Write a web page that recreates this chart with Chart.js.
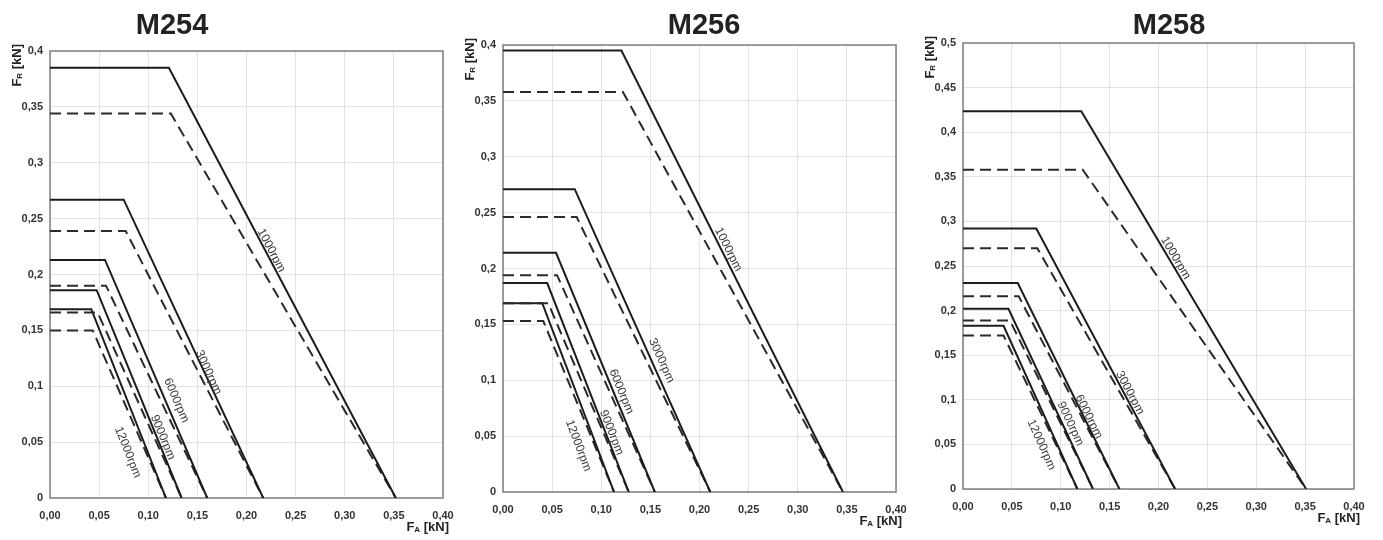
<!DOCTYPE html>
<html>
<head>
<meta charset="utf-8">
<script src="https://cdn.jsdelivr.net/npm/chart.js@4.4.1/dist/chart.umd.min.js"></script>
<style>
  body { margin: 0; background: #fff; width: 1383px; height: 540px; position: relative; overflow: hidden; }
  .box { position: absolute; top: 0; height: 540px; }
  .ttl { position: absolute; top: 8px; width: 200px; text-align: center; line-height: 29px;
         font: bold 29px 'Liberation Sans', Arial, sans-serif; color: #222; }
</style>
</head>
<body>
<div class="box" style="left:0;width:460px"><canvas id="m254"></canvas></div>
<div class="box" style="left:460px;width:460px"><canvas id="m256"></canvas></div>
<div class="box" style="left:920px;width:463px"><canvas id="m258"></canvas></div>
<div class="ttl" style="left:72px">M254</div>
<div class="ttl" style="left:604px">M256</div>
<div class="ttl" style="left:1069px">M258</div>
<script>
// permissible radial load F_R vs axial load F_A, per speed
const speeds = ['1000rpm', '3000rpm', '6000rpm', '9000rpm', '12000rpm'];

// M254
const m254SolidFr   = [0.385, 0.267, 0.213, 0.186, 0.169];
const m254SolidKnee = [0.121, 0.075, 0.056, 0.0475, 0.042];
const m254DashFr    = [0.344, 0.239, 0.190, 0.166, 0.150];
const m254DashKnee  = [0.123, 0.077, 0.057, 0.0485, 0.0435];
const m254FaMax     = [0.352, 0.217, 0.160, 0.134, 0.118];

// M256
const m256SolidFr   = [0.395, 0.271, 0.214, 0.187, 0.169];
const m256SolidKnee = [0.1205, 0.073, 0.054, 0.045, 0.040];
const m256DashFr    = [0.358, 0.246, 0.194, 0.169, 0.153];
const m256DashKnee  = [0.122, 0.075, 0.055, 0.046, 0.041];
const m256FaMax     = [0.346, 0.211, 0.1545, 0.128, 0.113];

// M258
const m258SolidFr   = [0.4235, 0.292, 0.231, 0.202, 0.183];
const m258SolidKnee = [0.121, 0.075, 0.056, 0.0465, 0.0415];
const m258DashFr    = [0.358, 0.270, 0.216, 0.189, 0.172];
const m258DashKnee  = [0.1225, 0.076, 0.057, 0.048, 0.0415];
const m258FaMax     = [0.351, 0.217, 0.160, 0.133, 0.117];

const FONT = "'Liberation Sans', Arial, sans-serif";

function curve(fr, knee, end) {
  return [{ x: 0, y: fr }, { x: knee, y: fr }, { x: end, y: 0 }];
}

// frame, axis titles and rpm labels along the sloped parts
const decor = {
  id: 'decor',
  beforeDatasetsDraw(chart) {
    const a = chart.chartArea, ctx = chart.ctx;
    ctx.save();
    ctx.strokeStyle = '#7f7f7f';
    ctx.lineWidth = 1.5;
    ctx.strokeRect(a.left, a.top, a.right - a.left, a.bottom - a.top);
    ctx.restore();
  },
  afterDatasetsDraw(chart, args, opts) {
    const a = chart.chartArea, ctx = chart.ctx;
    const xs = chart.scales.x, ys = chart.scales.y;
    ctx.save();
    ctx.fillStyle = '#222';

    // F_R [kN], rotated, ending at the top of the axis
    ctx.translate(a.left - 33, a.top - 7);
    ctx.rotate(-Math.PI / 2);
    ctx.textBaseline = 'middle';
    ctx.textAlign = 'left';
    ctx.font = 'bold 13px ' + FONT;
    const wF = ctx.measureText('F').width, wU = ctx.measureText(' [kN]').width;
    ctx.font = 'bold 8px ' + FONT;
    const wR = ctx.measureText('R').width;
    let x0 = -(wF + wR + wU);
    ctx.font = 'bold 13px ' + FONT;
    ctx.fillText('F', x0, 0);
    ctx.font = 'bold 8px ' + FONT;
    ctx.fillText('R', x0 + wF, 3);
    ctx.font = 'bold 13px ' + FONT;
    ctx.fillText(' [kN]', x0 + wF + wR, 0);
    ctx.setTransform(1, 0, 0, 1, 0, 0);

    // F_A [kN] under the right end of the axis
    ctx.font = 'bold 8px ' + FONT;
    const wA = ctx.measureText('A').width;
    ctx.font = 'bold 13px ' + FONT;
    x0 = a.right + 6 - (wF + wA + wU);
    const yb = a.bottom + 29;
    ctx.fillText('F', x0, yb);
    ctx.font = 'bold 8px ' + FONT;
    ctx.fillText('A', x0 + wF, yb + 3);
    ctx.font = 'bold 13px ' + FONT;
    ctx.fillText(' [kN]', x0 + wF + wA, yb);

    // speed labels
    ctx.font = '12px ' + FONT;
    ctx.fillStyle = '#3a3a3a';
    ctx.textAlign = 'center';
    ctx.textBaseline = 'middle';
    opts.speeds.forEach((s, i) => {
      const px1 = xs.getPixelForValue(opts.knee[i]), py1 = ys.getPixelForValue(opts.fr[i]);
      const px2 = xs.getPixelForValue(opts.end[i]), py2 = ys.getPixelForValue(0);
      const t = (opts.fr[i] - opts.at[i]) / opts.fr[i];
      const cx = px1 + t * (px2 - px1) + opts.shift[i];
      const cy = py1 + t * (py2 - py1);
      ctx.save();
      ctx.translate(cx, cy);
      ctx.rotate(Math.atan2(py2 - py1, px2 - px1));
      ctx.fillText(s, 0, 0);
      ctx.restore();
    });
    ctx.restore();
  }
};

function makeChart(id, d, box) {
  const datasets = [];
  speeds.forEach((s, i) => {
    datasets.push({
      label: s, data: curve(d.solidFr[i], d.solidKnee[i], d.faMax[i]),
      showLine: true, borderColor: '#1c1c1c', borderWidth: 2, pointRadius: 0, tension: 0
    });
    datasets.push({
      label: s + ' dashed', data: curve(d.dashFr[i], d.dashKnee[i], d.faMax[i]),
      showLine: true, borderColor: '#2a2a2a', borderWidth: 2, borderDash: [11, 6],
      pointRadius: 0, tension: 0
    });
  });

  return new Chart(document.getElementById(id), {
    type: 'scatter',
    data: { datasets },
    options: {
      responsive: true,
      maintainAspectRatio: false,
      animation: false,
      layout: { padding: { left: 0, top: box.top, right: box.right, bottom: 0 } },
      plugins: {
        legend: { display: false },
        tooltip: { enabled: false },
        decor: {
          speeds, fr: d.solidFr, knee: d.solidKnee, end: d.faMax,
          at: box.labelAt, shift: box.labelShift
        }
      },
      scales: {
        x: {
          type: 'linear', min: 0, max: 0.4,
          afterFit(scale) {
            scale.height = box.xh;
            scale.paddingLeft = 0;
            scale.paddingRight = 0;
          },
          border: { display: false },
          grid: { color: '#e3e3e3', lineWidth: 1, drawTicks: false },
          ticks: {
            stepSize: 0.05, autoSkip: false, maxRotation: 0, padding: 11,
            color: '#333', font: { family: FONT, size: 11, weight: 'bold' },
            callback: v => v.toFixed(2).replace('.', ',')
          }
        },
        y: {
          type: 'linear', min: 0, max: d.frMax,
          afterFit(scale) {
            scale.width = box.yw;
            scale.paddingTop = 0;
            scale.paddingBottom = 0;
          },
          border: { display: false },
          grid: { color: '#e3e3e3', lineWidth: 1, drawTicks: false },
          ticks: {
            stepSize: 0.05, autoSkip: false, padding: 7,
            color: '#333', font: { family: FONT, size: 11, weight: 'bold' },
            callback: v => String(parseFloat(v.toFixed(2))).replace('.', ',')
          }
        }
      }
    },
    plugins: [decor]
  });
}

makeChart('m254', {
  solidFr: m254SolidFr, solidKnee: m254SolidKnee, dashFr: m254DashFr,
  dashKnee: m254DashKnee, faMax: m254FaMax, frMax: 0.4
}, { top: 51, right: 17, yw: 50, xh: 42,
     labelAt: [0.2215, 0.1124, 0.0874, 0.0543, 0.0409], labelShift: [6, 4, 11, 6, -20] });

makeChart('m256', {
  solidFr: m256SolidFr, solidKnee: m256SolidKnee, dashFr: m256DashFr,
  dashKnee: m256DashKnee, faMax: m256FaMax, frMax: 0.4
}, { top: 45, right: 24, yw: 43, xh: 48,
     labelAt: [0.217, 0.1176, 0.0899, 0.0532, 0.0415], labelShift: [7, 10, 8, 6, -18] });

makeChart('m258', {
  solidFr: m258SolidFr, solidKnee: m258SolidKnee, dashFr: m258DashFr,
  dashKnee: m258DashKnee, faMax: m258FaMax, frMax: 0.5
}, { top: 43, right: 29, yw: 43, xh: 51,
     labelAt: [0.259, 0.1078, 0.0809, 0.0731, 0.0496], labelShift: [7, 6, 5, 8, -16] });
</script>
</body>
</html>
